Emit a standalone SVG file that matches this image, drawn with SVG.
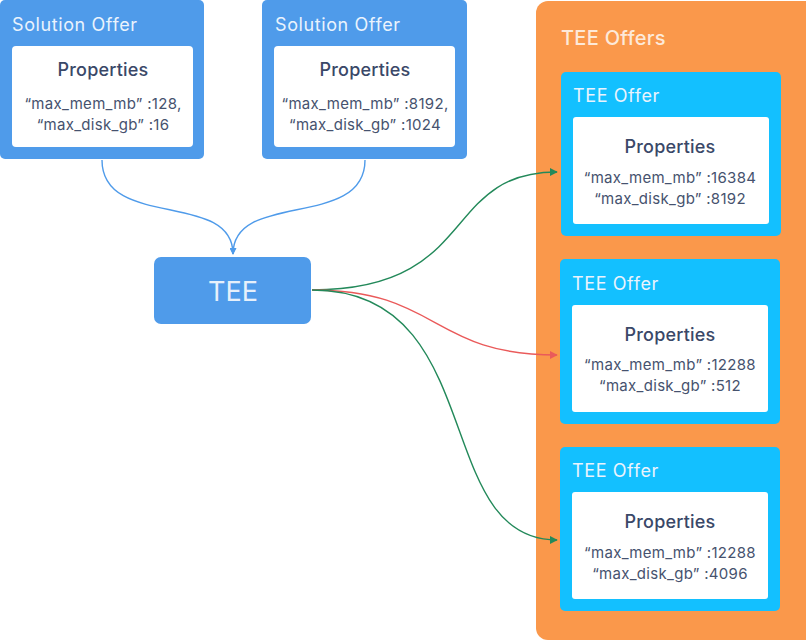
<svg xmlns="http://www.w3.org/2000/svg" width="806" height="641" viewBox="0 0 806 641">
<defs>
<style>
.sol{fill:#4f9bea}
.card{fill:#ffffff}
.tee-offer{fill:#13c0ff}
.title{font-family:Inter,"Noto Sans",sans-serif;font-size:18px;letter-spacing:0.6px;fill:#eaf3fd}
.props{font-family:Inter,"Noto Sans",sans-serif;font-size:18px;font-weight:500;letter-spacing:0.2px;fill:#3a4868;text-anchor:middle}
.kv{font-family:Inter,"Noto Sans",sans-serif;font-size:15px;letter-spacing:0.3px;fill:#46526e;text-anchor:middle}
.conn{fill:none;stroke-width:1.4}
</style>
<marker id="ab" viewBox="0 0 10 10" refX="9" refY="5" markerWidth="7" markerHeight="7" orient="auto" markerUnits="userSpaceOnUse"><path d="M0,0 L10,5 L0,10 z" fill="#4f9bea"/></marker>
<marker id="ag" viewBox="0 0 10 10" refX="9" refY="5" markerWidth="8" markerHeight="8" orient="auto" markerUnits="userSpaceOnUse"><path d="M0,0 L10,5 L0,10 z" fill="#23895a"/></marker>
<marker id="ar" viewBox="0 0 10 10" refX="9" refY="5" markerWidth="8" markerHeight="8" orient="auto" markerUnits="userSpaceOnUse"><path d="M0,0 L10,5 L0,10 z" fill="#ea5a5a"/></marker>
</defs>
<rect width="806" height="641" fill="#ffffff"/>

<g id="solution-offer-1">
<rect class="sol" x="0" y="0" width="204" height="159" rx="5"/>
<text class="title" x="12" y="31">Solution Offer</text>
<rect class="card" x="12" y="46" width="181" height="101" rx="4"/>
<text class="props" x="103" y="76">Properties</text>
<text class="kv" x="103" y="109">“max_mem_mb” :128,</text>
<text class="kv" x="103" y="130">“max_disk_gb” :16</text>
</g>

<g id="solution-offer-2">
<rect class="sol" x="262" y="0" width="205" height="159" rx="5"/>
<text class="title" x="275" y="31">Solution Offer</text>
<rect class="card" x="274" y="46" width="181" height="101" rx="4"/>
<text class="props" x="365" y="76">Properties</text>
<text class="kv" x="365" y="109">“max_mem_mb” :8192,</text>
<text class="kv" x="365" y="130">“max_disk_gb” :1024</text>
</g>

<g id="tee">
<rect class="sol" x="154" y="257" width="157" height="67" rx="7"/>
<text x="233" y="301" text-anchor="middle" font-family="Inter,'Noto Sans',sans-serif" font-size="27" fill="#e6f0fb">TEE</text>
</g>

<g id="tee-offers">
<rect x="536" y="1" width="290" height="639" rx="12" fill="#fa984b"/>
<text x="561" y="45" font-family="Inter,'Noto Sans',sans-serif" font-size="20" font-weight="500" letter-spacing="0.3" fill="#fde9d9">TEE Offers</text>
</g>

<g id="tee-offer-1">
<rect class="tee-offer" x="561" y="72" width="220" height="164" rx="5"/>
<text class="title" x="573" y="102">TEE Offer</text>
<rect class="card" x="573" y="117" width="196" height="107" rx="3"/>
<text class="props" x="670" y="153">Properties</text>
<text class="kv" x="670" y="183">“max_mem_mb” :16384</text>
<text class="kv" x="670" y="204">“max_disk_gb” :8192</text>
</g>

<g id="tee-offer-2">
<rect class="tee-offer" x="560" y="259" width="220" height="165" rx="5"/>
<text class="title" x="572" y="290">TEE Offer</text>
<rect class="card" x="572" y="305" width="196" height="107" rx="3"/>
<text class="props" x="670" y="341">Properties</text>
<text class="kv" x="670" y="370">“max_mem_mb” :12288</text>
<text class="kv" x="670" y="391">“max_disk_gb” :512</text>
</g>

<g id="tee-offer-3">
<rect class="tee-offer" x="560" y="447" width="220" height="164" rx="5"/>
<text class="title" x="572" y="477">TEE Offer</text>
<rect class="card" x="572" y="492" width="196" height="107" rx="3"/>
<text class="props" x="670" y="528">Properties</text>
<text class="kv" x="670" y="558">“max_mem_mb” :12288</text>
<text class="kv" x="670" y="579">“max_disk_gb” :4096</text>
</g>

<g id="connectors">
<path class="conn" stroke="#4f9bea" d="M102,160 C102,230 233,190 233,254" marker-end="url(#ab)"/>
<path class="conn" stroke="#4f9bea" d="M365,160 C365,230 233,190 233,254" marker-end="url(#ab)"/>
<path class="conn" stroke="#23895a" d="M312,290 C480,290 440,172 557,172" marker-end="url(#ag)"/>
<path class="conn" stroke="#ea5a5a" d="M312,290 C440,290 430,355 557,355" marker-end="url(#ar)"/>
<path class="conn" stroke="#23895a" d="M312,290 C490,290 430,540 557,540" marker-end="url(#ag)"/>
</g>
</svg>
